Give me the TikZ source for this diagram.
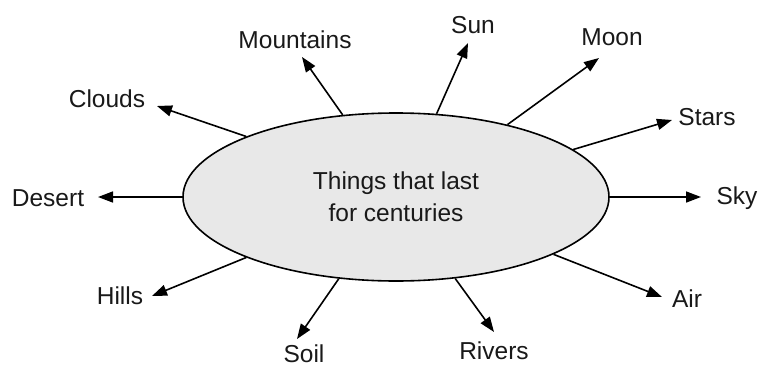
\documentclass[tikz,border=0pt]{standalone}
\usepackage{fontspec}
\setmainfont{Liberation Sans}
\usetikzlibrary{arrows.meta,shapes.geometric}
\begin{document}
\begin{tikzpicture}[x=1pt,y=-1pt,
  lbl/.style={anchor=base,inner sep=0pt,text=black!90,font=\fontsize{24.5}{32}\selectfont},
  arr/.style={line width=1.6pt,-{Triangle[length=15pt,width=11pt]}},
  hub/.style={ellipse,draw,line width=1.6pt,fill=black!9,minimum width=426pt,minimum height=168pt,inner sep=0pt,align=center,text=black!90,font=\fontsize{24.5}{32}\selectfont}]
\useasboundingbox[fill=white] (0,0) rectangle (758,367);
\node[hub] (c) at (396,197) {Things that last\\for centuries};
% labels
\node[lbl] (mountains) at (295,48) {Mountains};
\node[lbl] (clouds) at (107,107) {Clouds};
\node[lbl] (sun) at (473,33) {Sun};
\node[lbl] (moon) at (612,45) {Moon};
\node[lbl] (stars) at (707,125) {Stars};
\node[lbl] (desert) at (48,206) {Desert};
\node[lbl] (sky) at (737,204) {Sky};
\node[lbl] (hills) at (120,304) {Hills};
\node[lbl] (soil) at (304,362) {Soil};
\node[lbl] (rivers) at (494,359) {Rivers};
\node[lbl] (air) at (687,307) {Air};
% arrow tips
\coordinate (tmountains) at (302,57);
\coordinate (tclouds) at (157,106);
\coordinate (tsun) at (468,43);
\coordinate (tmoon) at (599,58);
\coordinate (tstars) at (672,120);
\coordinate (tdesert) at (98,197);
\coordinate (tsky) at (701,197);
\coordinate (thills) at (152,296);
\coordinate (tsoil) at (297,339);
\coordinate (trivers) at (494,332);
\coordinate (tair) at (662,297);
% arrows
\draw[arr] (c.123.4) -- (tmountains);
\draw[arr] (c.158.7) -- (tclouds);
\draw[arr] (c.64.5) -- (tsun);
\draw[arr] (c.33.9) -- (tmoon);
\draw[arr] (c.15.9) -- (tstars);
\draw[arr] (c.180) -- (tdesert);
\draw[arr] (c.0) -- (tsky);
\draw[arr] (c.202.3) -- (thills);
\draw[arr] (c.235.7) -- (tsoil);
\draw[arr] (c.306.6) -- (trivers);
\draw[arr] (c.340.2) -- (tair);
\end{tikzpicture}
\end{document}
